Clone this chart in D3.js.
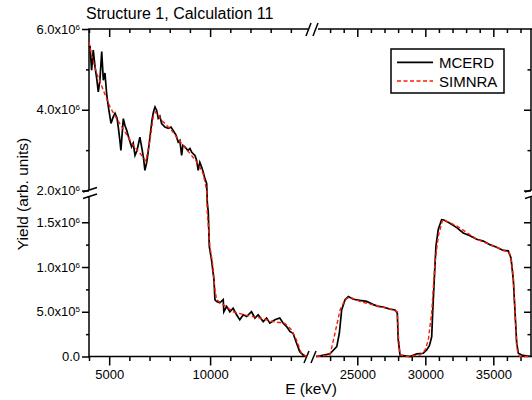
<!DOCTYPE html>
<html>
<head>
<meta charset="utf-8">
<script src="https://cdn.jsdelivr.net/npm/d3@7"></script>
<style>
  body { margin: 0; background: #fff; }
  svg { display: block; font-family: "Liberation Sans", Arial, sans-serif; }
</style>
</head>
<body>
<svg id="chart" width="532" height="400"></svg>
<script>
// energies in keV, yields in units of 1e6
const mcerdE = [4000, 4050, 4130, 4210, 4300, 4380, 4460, 4540, 4630, 4710, 4790, 4880, 4960, 5090, 5190, 5290, 5390, 5450, 5530, 5580,
  5700, 5780, 5870, 5980, 6110, 6190, 6280, 6380, 6520, 6640, 6700, 6770, 6860, 6940, 7020, 7120, 7190, 7270, 7350, 7430,
  7510, 7600, 7760, 7930, 8060, 8170, 8310, 8420, 8500, 8590, 8650, 8750, 8900, 9000, 9100, 9250, 9330, 9410, 9490, 9580,
  9660, 9740, 9830, 9860, 9910, 9960, 10070, 10190, 10240, 10320, 10480, 10650, 10680, 10820, 10980, 11140, 11310, 11470, 11640, 11810,
  12050, 12220, 12380, 12630, 12800, 12960, 13210, 13450, 13620, 13790, 13950, 14110, 14280, 14440, 14610, 14780,
  22000, 22990, 23490, 23680, 23850, 24100, 24340, 24710, 25200, 25690, 26180, 26540, 26910, 27400, 27770, 27940, 28010, 28140, 28870, 29370,
  29850, 30100, 30300, 30470, 30540, 30660, 30780, 30950, 31200, 31370, 31810, 32310, 32790, 33280, 33780, 34260, 34750, 35250, 35730, 36100,
  36300, 36470, 36600, 36720, 36840, 37090, 37770];
const mcerdY = [5.55, 5.56, 4.98, 5.48, 5.06, 4.78, 4.44, 4.73, 5.44, 4.73, 4.91, 4.36, 4.07, 3.66, 3.81, 3.91, 3.79, 3.57, 3.24, 2.99,
  3.78, 3.61, 3.49, 3.29, 3.08, 3.17, 2.87, 2.99, 3.32, 2.99, 2.80, 2.50, 2.70, 2.99, 3.32, 3.74, 3.94, 4.07, 3.99, 3.79,
  3.84, 3.66, 3.57, 3.54, 3.57, 3.49, 3.37, 3.20, 3.24, 2.87, 3.12, 3.08, 2.99, 3.04, 2.94, 2.87, 2.75, 2.50, 2.70, 2.58,
  2.45, 2.30, 2.17, 1.72, 1.61, 1.23, 1.08, 0.86, 0.635, 0.615, 0.60, 0.635, 0.50, 0.56, 0.50, 0.54, 0.466, 0.41, 0.466, 0.447,
  0.50, 0.43, 0.466, 0.39, 0.43, 0.373, 0.41, 0.43, 0.373, 0.335, 0.28, 0.26, 0.15, 0.054, 0.017, 0,
  0, 0.03, 0.11, 0.26, 0.52, 0.635, 0.67, 0.64, 0.627, 0.616, 0.58, 0.56, 0.553, 0.53, 0.52, 0.485, 0.185, 0.017, 0, 0.03,
  0.036, 0.073, 0.12, 0.22, 0.485, 0.86, 1.23, 1.42, 1.53, 1.526, 1.49, 1.44, 1.38, 1.35, 1.31, 1.29, 1.25, 1.22, 1.185, 1.18,
  1.10, 0.86, 0.485, 0.15, 0.036, 0.017, 0];

const simnraE = [4000, 4130, 4380, 4710, 5040, 5370, 5780, 6190, 6610, 6820, 7020, 7180, 7300, 7600, 8090, 8590, 9080, 9410, 9660, 9830,
  9860, 9990, 10120, 10240, 10320, 10650, 11140, 11810, 12470, 13120, 13700, 14030, 14280, 14520, 14770,
  22000, 22990, 23360, 23730, 24100, 24410, 25200, 26430, 27650, 27940, 28010, 28140, 28630, 29610, 29980, 30220, 30470, 30710, 30960, 31280,
  32310, 33780, 35250, 36180, 36300, 36470, 36600, 36720, 36840, 36960, 37770];
const simnraY = [5.68, 5.35, 4.90, 4.48, 4.07, 3.78, 3.45, 3.12, 2.87, 2.73, 3.24, 3.82, 3.95, 3.74, 3.49, 3.16, 2.87, 2.66, 2.41, 2.00,
  1.61, 1.23, 1.04, 0.75, 0.635, 0.58, 0.50, 0.46, 0.43, 0.39, 0.37, 0.30, 0.185, 0.036, 0,
  0, 0.017, 0.26, 0.52, 0.635, 0.665, 0.615, 0.567, 0.52, 0.50, 0.26, 0.017, 0, 0.017, 0.07, 0.185, 0.49, 1.05, 1.35, 1.53,
  1.46, 1.31, 1.22, 1.16, 1.10, 0.88, 0.49, 0.11, 0.017, 0, 0];

const xMajorLeft = [5000, 10000];
const xMajorRight = [25000, 30000, 35000];
const yMajorTop = [2, 4, 6];
const yMinorTop = [3, 5];
const yMajorBottom = [0, 0.5, 1, 1.5];
const yMinorBottom = [0.25, 0.75, 1.25];

const svg = d3.select('#chart');

// broken axes: two pieces on x, two pieces on y
const xLeft = d3.scaleLinear().domain([4000, 14800]).range([89, 307]);
const xRight = d3.scaleLinear().domain([22000, 37800]).range([316.5, 531.4]);
const yTop = d3.scaleLinear().domain([2, 6]).range([190.5, 29]);
const yBottom = d3.scaleLinear().domain([0, 1.75]).range([356.5, 199.9]);
// piecewise scale for the data lines so the drop can cross the y break
const yData = d3.scaleLinear().domain([0, 1.75, 2, 6]).range([356.5, 199.9, 190.5, 29]);

const xLeftMinor = d3.range(4000, 15000, 1000).filter(d => !xMajorLeft.includes(d));
const xRightMinor = d3.range(23000, 38000, 1000).filter(d => !xMajorRight.includes(d));

function styleAxis(g) {
    g.select('.domain').remove();
    g.selectAll('.tick line').attr('stroke', '#000').attr('stroke-width', 1.5);
    g.selectAll('.tick text').attr('font-size', 13).attr('fill', '#000');
}

// y tick label like 5.0x10^5
function sciLabel(sel) {
    sel.each(function(d) {
        const t = d3.select(this);
        t.text(null);
        if (d === 0) { t.text('0.0'); return; }
        const v = d * 1e6;
        const p = Math.floor(Math.log10(v));
        const m = (v / Math.pow(10, p)).toFixed(1);
        t.append('tspan').text(m + 'x10');
        t.append('tspan').attr('dy', '-0.5em').attr('font-size', 8).text(p);
    });
}

// bottom x axis
const bottomY = 356.5;
[[xLeft, xMajorLeft, xLeftMinor], [xRight, xMajorRight, xRightMinor]].forEach(([sc, major, minor]) => {
    svg.append('g').attr('transform', `translate(0,${bottomY})`)
        .call(d3.axisBottom(sc).tickValues(major).tickFormat(d3.format('d')).tickSize(9).tickPadding(4))
        .call(styleAxis);
    svg.append('g').attr('transform', `translate(0,${bottomY})`)
        .call(d3.axisBottom(sc).tickValues(minor).tickFormat('').tickSize(4.5))
        .call(styleAxis);
    // top mirror, ticks inward
    svg.append('g').attr('transform', 'translate(0,29)')
        .call(d3.axisTop(sc).tickValues(major).tickFormat('').tickSize(-8))
        .call(styleAxis);
    svg.append('g').attr('transform', 'translate(0,29)')
        .call(d3.axisTop(sc).tickValues(minor).tickFormat('').tickSize(-4))
        .call(styleAxis);
});

// left and right y axes
[[yTop, yMajorTop, yMinorTop], [yBottom, yMajorBottom, yMinorBottom]].forEach(([sc, major, minor]) => {
    svg.append('g').attr('transform', 'translate(89,0)')
        .call(d3.axisLeft(sc).tickValues(major).tickSize(7).tickPadding(2))
        .call(styleAxis)
        .call(g => g.selectAll('.tick text').call(sciLabel));
    svg.append('g').attr('transform', 'translate(89,0)')
        .call(d3.axisLeft(sc).tickValues(minor).tickFormat('').tickSize(3))
        .call(styleAxis);
    svg.append('g').attr('transform', 'translate(531,0)')
        .call(d3.axisRight(sc).tickValues(major.filter(d => d !== 6 && d !== 0)).tickFormat('').tickSize(-7))
        .call(styleAxis);
    svg.append('g').attr('transform', 'translate(531,0)')
        .call(d3.axisRight(sc).tickValues(minor).tickFormat('').tickSize(-3.5))
        .call(styleAxis);
});

// spines with gaps at the breaks
const spines = [
    [89, 29, 89, 190], [89, 197, 89, 356.5],
    [531, 29, 531, 190], [531, 197, 531, 356.5],
    [88.2, 356.5, 306, 356.5], [316, 356.5, 532, 356.5],
    [88.2, 29, 308, 29], [318, 29, 532, 29]
];
svg.append('g').selectAll('line').data(spines).join('line')
    .attr('x1', d => d[0]).attr('y1', d => d[1]).attr('x2', d => d[2]).attr('y2', d => d[3])
    .attr('stroke', '#000').attr('stroke-width', 1.5);

// break marks
const breaks = [
    [304, 363, 309, 351], [311, 363, 316, 351],
    [306, 36, 311, 23], [313, 36, 318, 23],
    [83, 192, 97, 187.5], [83, 198.5, 97, 194],
    [525, 192, 539, 187.5], [525, 198.5, 539, 194]
];
svg.append('g').selectAll('line').data(breaks).join('line')
    .attr('x1', d => d[0]).attr('y1', d => d[1]).attr('x2', d => d[2]).attr('y2', d => d[3])
    .attr('stroke', '#000').attr('stroke-width', 1.5);

// data lines, drawn per x segment
function drawSeries(E, Y, color, dash, width) {
    const pts = E.map((e, i) => [e, Y[i]]);
    const leftPts = pts.filter(p => p[0] <= 14800);
    const rightPts = pts.filter(p => p[0] >= 22000);
    [[leftPts, xLeft], [rightPts, xRight]].forEach(([data, sc]) => {
        svg.append('path')
            .datum(data)
            .attr('fill', 'none')
            .attr('stroke', color)
            .attr('stroke-width', width)
            .attr('stroke-dasharray', dash)
            .attr('d', d3.line().x(d => sc(d[0])).y(d => yData(d[1])));
    });
}
drawSeries(mcerdE, mcerdY, '#000', null, 1.7);
drawSeries(simnraE, simnraY, '#ff1a00', '4,2.5', 1.4);

// title and axis labels
svg.append('text').attr('x', 86).attr('y', 19).attr('font-size', 16).text('Structure 1, Calculation 11');
svg.append('text').attr('x', 311).attr('y', 394).attr('text-anchor', 'middle').attr('font-size', 15.5).text('E (keV)');
svg.append('text').attr('transform', 'translate(28,194) rotate(-90)').attr('text-anchor', 'middle')
    .attr('font-size', 15.5).text('Yield (arb. units)');

// legend
const legend = svg.append('g');
legend.append('rect').attr('x', 391).attr('y', 49).attr('width', 113).attr('height', 44)
    .attr('fill', '#fff').attr('stroke', '#000').attr('stroke-width', 1.5);
const items = [['MCERD', '#000', null, 62.3, 1.7], ['SIMNRA', '#ff1a00', '4,2.5', 81, 1.4]];
items.forEach(([name, color, dash, y, w]) => {
    legend.append('line').attr('x1', 397).attr('x2', 433).attr('y1', y).attr('y2', y)
        .attr('stroke', color).attr('stroke-width', w).attr('stroke-dasharray', dash);
    legend.append('text').attr('x', 439).attr('y', y + 5.5).attr('font-size', 15).text(name);
});
</script>
</body>
</html>
